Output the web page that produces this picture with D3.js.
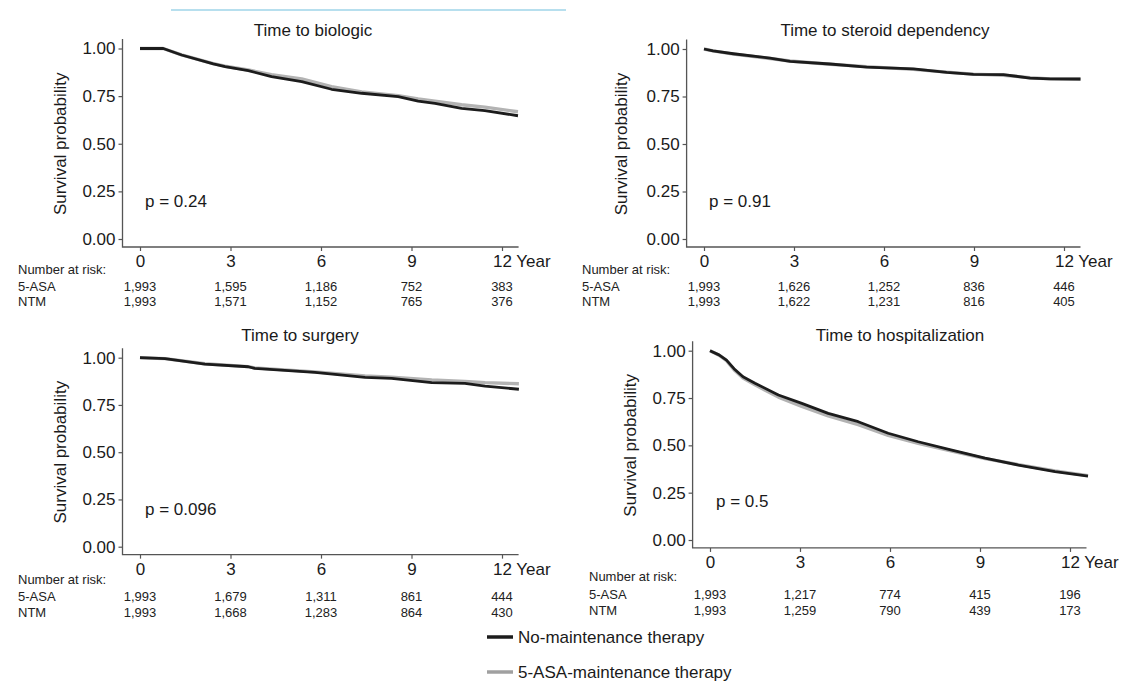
<!DOCTYPE html>
<html>
<head>
<meta charset="utf-8">
<script src="https://cdn.jsdelivr.net/npm/d3@7"></script>
<style>
  body { margin: 0; background: #fff; }
  svg { display: block; font-family: "Liberation Sans", Arial, sans-serif; }
</style>
</head>
<body>
<div id="chart"></div>
<script>
// ---- data ----
const yearTicks = [0, 3, 6, 9, 12];
const probTicks = [0, 0.25, 0.5, 0.75, 1];
const panelTitles = ["Time to biologic", "Time to steroid dependency", "Time to surgery", "Time to hospitalization"];
const pLabels = ["p = 0.24", "p = 0.91", "p = 0.096", "p = 0.5"];
const riskRowLabels = ["5-ASA", "NTM"];
const legendLabels = ["No-maintenance therapy", "5-ASA-maintenance therapy"];

// [year, survival probability]
const biologicNTM = [[0, 1], [0.77, 1], [1.38, 0.966], [2.43, 0.919], [2.82, 0.905], [3.59, 0.884], [4.36, 0.852], [5.36, 0.826], [6.35, 0.786], [7.35, 0.765], [8.56, 0.747], [9.22, 0.724], [9.78, 0.712], [10.66, 0.686], [11.43, 0.674], [12.53, 0.647]];
const biologicASA = [[0, 1], [0.77, 1], [1.38, 0.966], [2.43, 0.921], [2.82, 0.907], [3.59, 0.887], [4.36, 0.862], [5.36, 0.84], [6.35, 0.8], [7.35, 0.772], [8.56, 0.752], [9.22, 0.735], [9.78, 0.724], [10.66, 0.705], [11.43, 0.692], [12.53, 0.668]];
const steroidNTM = [[0, 1], [0.3, 0.99], [0.98, 0.975], [2.2, 0.952], [2.87, 0.935], [4.2, 0.921], [5.42, 0.905], [6.98, 0.895], [8.09, 0.877], [8.98, 0.866], [9.98, 0.865], [10.87, 0.847], [11.53, 0.843], [12.55, 0.842]];
const steroidASA = [[0, 1], [0.3, 0.99], [0.98, 0.973], [2.2, 0.95], [2.87, 0.937], [4.2, 0.92], [5.42, 0.907], [6.98, 0.893], [8.09, 0.878], [8.98, 0.868], [9.98, 0.862], [10.87, 0.849], [11.53, 0.843], [12.55, 0.841]];
const surgeryNTM = [[0, 1], [0.83, 0.995], [2.15, 0.966], [3.59, 0.952], [3.8, 0.943], [5.8, 0.922], [7.46, 0.896], [8.34, 0.891], [9.67, 0.868], [10.77, 0.864], [11.44, 0.85], [12.56, 0.833]];
const surgeryASA = [[0, 1], [0.83, 0.995], [2.15, 0.968], [3.59, 0.953], [3.8, 0.946], [5.8, 0.925], [7.46, 0.903], [8.34, 0.897], [9.67, 0.882], [10.77, 0.874], [11.44, 0.868], [12.56, 0.862]];
const hospNTM = [[0, 1], [0.3, 0.978], [0.55, 0.95], [0.8, 0.905], [1.1, 0.862], [1.5, 0.828], [2.28, 0.766], [3.06, 0.722], [3.94, 0.669], [4.94, 0.625], [5.94, 0.564], [6.94, 0.519], [8.06, 0.475], [9.17, 0.432], [10.28, 0.396], [11.5, 0.361], [12.6, 0.338]];
const hospASA = [[0, 1], [0.3, 0.976], [0.55, 0.947], [0.8, 0.9], [1.1, 0.856], [1.5, 0.82], [2.28, 0.755], [3.06, 0.706], [3.94, 0.656], [4.94, 0.61], [5.94, 0.553], [6.94, 0.51], [8.06, 0.47], [9.17, 0.43], [10.28, 0.398], [11.5, 0.365], [12.6, 0.34]];

// number at risk at yearTicks
const biologicRiskASA = [1993, 1595, 1186, 752, 383];
const biologicRiskNTM = [1993, 1571, 1152, 765, 376];
const steroidRiskASA = [1993, 1626, 1252, 836, 446];
const steroidRiskNTM = [1993, 1622, 1231, 816, 405];
const surgeryRiskASA = [1993, 1679, 1311, 861, 444];
const surgeryRiskNTM = [1993, 1668, 1283, 864, 430];
const hospRiskASA = [1993, 1217, 774, 415, 196];
const hospRiskNTM = [1993, 1259, 790, 439, 173];

// ---- layout ----
const width = 1124, height = 683;
const colorNTM = "#1c1c1c", colorASA = "#b3b3b3", axisColor = "#555", textColor = "#1a1a1a";

const panels = [
    { title: panelTitles[0], p: pLabels[0], ntm: biologicNTM, asa: biologicASA, risk: [biologicRiskASA, biologicRiskNTM],
      x0: 140, x12: 502, y1: 48.5, y0: 239, titleX: 313, titleY: 36, ylabX: 60, pX: 145, pY: 207, riskX: 18, riskY: [274, 291, 306] },
    { title: panelTitles[1], p: pLabels[1], ntm: steroidNTM, asa: steroidASA, risk: [steroidRiskASA, steroidRiskNTM],
      x0: 704, x12: 1064, y1: 49, y0: 239, titleX: 885, titleY: 36, ylabX: 621, pX: 709, pY: 207, riskX: 582, riskY: [274, 291, 306] },
    { title: panelTitles[2], p: pLabels[2], ntm: surgeryNTM, asa: surgeryASA, risk: [surgeryRiskASA, surgeryRiskNTM],
      x0: 140, x12: 502, y1: 357.7, y0: 546.7, titleX: 300, titleY: 341, ylabX: 60, pX: 145, pY: 515, riskX: 18, riskY: [584, 601, 617] },
    { title: panelTitles[3], p: pLabels[3], ntm: hospNTM, asa: hospASA, risk: [hospRiskASA, hospRiskNTM],
      x0: 710, x12: 1070, y1: 350.7, y0: 540, titleX: 900, titleY: 341, ylabX: 630, pX: 716, pY: 507, riskX: 589, riskY: [581, 598.5, 615] }
];

const svg = d3.select("#chart")
    .append("svg")
    .attr("width", width)
    .attr("height", height)
    .attr("viewBox", [0, 0, width, height]);

svg.append("rect").attr("width", width).attr("height", height).attr("fill", "#fff");

// thin blue rule at the top of the scan
svg.append("line")
    .attr("x1", 171).attr("x2", 566).attr("y1", 10).attr("y2", 10)
    .attr("stroke", "#9fd4e8").attr("stroke-width", 1.5);

const fmtRisk = d3.format(",");

panels.forEach(p => {
    const x = d3.scaleLinear().domain([0, 12]).range([p.x0, p.x12]);
    const y = d3.scaleLinear().domain([0, 1]).range([p.y0, p.y1]);
    const g = svg.append("g");

    const axisY = y(-0.042);
    const axisLeftX = x(-0.58);

    // x axis
    g.append("g")
        .attr("transform", `translate(0,${axisY})`)
        .call(d3.axisBottom(x).tickValues(yearTicks).tickSize(4).tickPadding(4)
            .tickFormat(d => d === 12 ? "12 Year" : d))
        .attr("font-size", 17)
        .attr("font-family", null)
        .call(g => g.select(".domain").remove())
        .call(g => g.selectAll(".tick line").attr("stroke", axisColor).attr("stroke-width", 1.2))
        .call(g => g.selectAll(".tick text").attr("fill", textColor))
        .call(g => g.selectAll(".tick").filter(d => d === 12).select("text")
            .attr("text-anchor", "start").attr("dx", -9.5));

    // y axis
    g.append("g")
        .attr("transform", `translate(${axisLeftX},0)`)
        .call(d3.axisLeft(y).tickValues(probTicks).tickSize(4).tickPadding(3).tickFormat(d3.format(".2f")))
        .attr("font-size", 17)
        .attr("font-family", null)
        .call(g => g.select(".domain").remove())
        .call(g => g.selectAll(".tick line").attr("stroke", axisColor).attr("stroke-width", 1.2))
        .call(g => g.selectAll(".tick text").attr("fill", textColor));

    // axis lines
    g.append("path")
        .attr("d", `M${axisLeftX},${y(1.05)}V${axisY}H${x(12.55)}`)
        .attr("fill", "none")
        .attr("stroke", axisColor)
        .attr("stroke-width", 1.3);

    // survival curves
    const line = d3.line().x(d => x(d[0])).y(d => y(d[1]));
    g.append("path")
        .datum(p.asa)
        .attr("d", line)
        .attr("fill", "none")
        .attr("stroke", colorASA)
        .attr("stroke-width", 3.4)
        .attr("stroke-linejoin", "round");
    g.append("path")
        .datum(p.ntm)
        .attr("d", line)
        .attr("fill", "none")
        .attr("stroke", colorNTM)
        .attr("stroke-width", 2.8)
        .attr("stroke-linejoin", "round");

    // title, y label, p value
    g.append("text")
        .attr("x", p.titleX).attr("y", p.titleY)
        .attr("text-anchor", "middle")
        .attr("font-size", 17)
        .attr("fill", textColor)
        .text(p.title);

    g.append("text")
        .attr("transform", `translate(${p.ylabX},${(y(0) + y(1)) / 2}) rotate(-90)`)
        .attr("text-anchor", "middle")
        .attr("dy", "0.35em")
        .attr("font-size", 17)
        .attr("fill", textColor)
        .text("Survival probability");

    g.append("text")
        .attr("x", p.pX).attr("y", p.pY)
        .attr("font-size", 17)
        .attr("fill", textColor)
        .text(p.p);

    // number at risk table
    const risk = g.append("g").attr("font-size", 13).attr("fill", "#222");
    risk.append("text").attr("x", p.riskX).attr("y", p.riskY[0]).text("Number at risk:");
    p.risk.forEach((row, i) => {
        risk.append("text").attr("x", p.riskX).attr("y", p.riskY[i + 1]).text(riskRowLabels[i]);
        risk.selectAll(null)
            .data(row)
            .join("text")
            .attr("x", (d, j) => x(yearTicks[j]))
            .attr("y", p.riskY[i + 1])
            .attr("text-anchor", "middle")
            .text(d => fmtRisk(d));
    });
});

// legend
const legend = svg.append("g").attr("font-size", 17).attr("fill", textColor);
[colorNTM, "#a0a0a0"].forEach((c, i) => {
    const ly = [637, 672][i];
    legend.append("line")
        .attr("x1", 487).attr("x2", 513).attr("y1", ly).attr("y2", ly)
        .attr("stroke", c).attr("stroke-width", 3.5);
    legend.append("text")
        .attr("x", 518).attr("y", ly)
        .attr("dy", "0.35em")
        .text(legendLabels[i]);
});
</script>
</body>
</html>
